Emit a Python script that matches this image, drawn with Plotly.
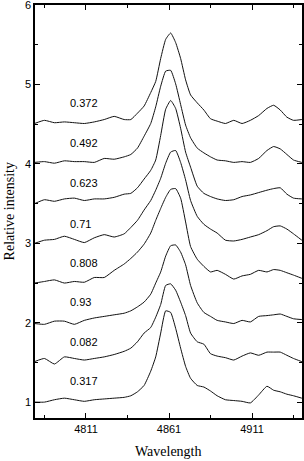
import plotly.graph_objects as go

wavelength = [4780, 4786, 4792, 4798, 4804, 4810, 4816, 4822, 4828, 4834, 4838, 4842,
              4846, 4850, 4853, 4856, 4859, 4862, 4865, 4868, 4871, 4874, 4878, 4882,
              4886, 4890, 4895, 4900, 4905, 4910, 4915, 4920, 4924, 4928, 4932, 4936, 4941]

s_0372 = [4.51, 4.55, 4.52, 4.53, 4.52, 4.51, 4.53, 4.56, 4.60, 4.56, 4.56, 4.64,
          4.73, 4.90, 5.04, 5.33, 5.57, 5.65, 5.53, 5.33, 5.06, 4.87, 4.77, 4.68,
          4.57, 4.54, 4.51, 4.55, 4.51, 4.55, 4.61, 4.70, 4.74, 4.68, 4.59, 4.55, 4.56]
s_0492 = [4.02, 4.03, 4.01, 4.04, 4.03, 4.03, 4.02, 4.07, 4.06, 4.09, 4.12, 4.20,
          4.35, 4.51, 4.72, 4.98, 5.17, 5.18, 5.01, 4.75, 4.49, 4.33, 4.20, 4.14,
          4.09, 4.05, 4.04, 4.02, 4.03, 4.02, 4.07, 4.17, 4.22, 4.19, 4.12, 4.05, 4.02]
s_0623 = [3.50, 3.55, 3.53, 3.56, 3.57, 3.54, 3.56, 3.56, 3.58, 3.62, 3.63, 3.70,
          3.81, 3.92, 4.05, 4.36, 4.69, 4.80, 4.70, 4.45, 4.15, 3.96, 3.72, 3.63,
          3.59, 3.56, 3.54, 3.55, 3.59, 3.61, 3.64, 3.67, 3.69, 3.70, 3.62, 3.57, 3.56]
s_071 = [3.00, 3.04, 3.05, 3.09, 3.05, 3.01, 3.07, 3.11, 3.08, 3.12, 3.20, 3.29,
         3.42, 3.54, 3.67, 3.82, 4.01, 4.15, 4.17, 4.02, 3.80, 3.54, 3.34, 3.24,
         3.18, 3.13, 3.04, 3.03, 3.05, 3.08, 3.11, 3.16, 3.21, 3.22, 3.18, 3.12, 3.04]
s_0808 = [2.50, 2.52, 2.54, 2.50, 2.52, 2.51, 2.57, 2.57, 2.66, 2.74, 2.81, 2.89,
          2.99, 3.13, 3.29, 3.44, 3.58, 3.68, 3.69, 3.57, 3.27, 2.96, 2.80, 2.71,
          2.64, 2.66, 2.61, 2.55, 2.59, 2.61, 2.66, 2.64, 2.67, 2.66, 2.63, 2.60, 2.56]
s_093 = [1.99, 1.98, 2.02, 2.02, 1.98, 2.03, 2.06, 2.08, 2.10, 2.12, 2.15, 2.20,
         2.26, 2.36, 2.50, 2.64, 2.84, 2.97, 2.98, 2.89, 2.73, 2.47, 2.25, 2.13,
         2.08, 2.03, 2.01, 1.99, 2.03, 2.01, 2.08, 2.09, 2.10, 2.11, 2.08, 2.05, 2.04]
s_0082 = [1.51, 1.55, 1.48, 1.57, 1.55, 1.53, 1.55, 1.57, 1.60, 1.64, 1.68, 1.76,
          1.87, 1.94, 2.07, 2.23, 2.47, 2.49, 2.41, 2.26, 2.09, 1.87, 1.76, 1.73,
          1.61, 1.58, 1.56, 1.53, 1.58, 1.62, 1.59, 1.63, 1.63, 1.63, 1.59, 1.55, 1.51]
s_0317 = [1.00, 1.00, 1.03, 1.05, 1.03, 1.01, 1.03, 1.04, 1.05, 1.06, 1.08, 1.13,
          1.21, 1.39, 1.57, 1.87, 2.15, 2.13, 1.93, 1.68, 1.45, 1.30, 1.21, 1.19,
          1.14, 1.08, 1.03, 1.02, 1.01, 0.99, 1.09, 1.20, 1.15, 1.13, 1.10, 1.08, 1.05]

series = [s_0372, s_0492, s_0623, s_071, s_0808, s_093, s_0082, s_0317]
labels = ["0.372", "0.492", "0.623", "0.71", "0.808", "0.93", "0.082", "0.317"]
label_x = 4800
label_y = [4.77, 4.26, 3.76, 3.25, 2.75, 2.26, 1.76, 1.265]

fig = go.Figure()
for s in series:
    fig.add_trace(go.Scatter(x=wavelength, y=s, mode="lines",
                             line=dict(color="#111111", width=1.0, shape="spline", smoothing=0.45),
                             showlegend=False, hoverinfo="skip"))

for t, yv in zip(labels, label_y):
    fig.add_annotation(x=label_x, y=yv, text=t, showarrow=False, xanchor="left",
                       yanchor="middle", font=dict(family="Liberation Sans, Arial", size=11, color="black"))

serif = dict(family="Liberation Serif, Times New Roman", size=14, color="black")
fig.add_annotation(x=0.5, y=-0.08, xref="paper", yref="paper", text="Wavelength",
                   showarrow=False, xanchor="center", yanchor="middle", font=serif)
fig.add_annotation(x=-0.094, y=0.5, xref="paper", yref="paper", text="Relative intensity",
                   showarrow=False, xanchor="center", yanchor="middle", textangle=-90, font=serif)

axis_common = dict(showline=True, linecolor="black", linewidth=1.5, mirror="allticks",
                   ticks="inside", ticklen=5, tickwidth=1, tickcolor="black",
                   showgrid=False, zeroline=False, automargin=False, ticklabeloverflow="allow",
                   tickfont=dict(family="Liberation Sans, Arial", size=11, color="black"))

fig.update_xaxes(range=[4780.3, 4941.1], tickvals=[4811, 4861, 4911],
                 minor=dict(tickvals=[4786, 4836, 4886, 4936], ticks="inside", ticklen=3, tickcolor="black"),
                 **axis_common)
fig.update_yaxes(range=[0.8, 6.003], tickvals=[1, 2, 3, 4, 5, 6],
                 minor=dict(tickvals=[1.5, 2.5, 3.5, 4.5, 5.5], ticks="inside", ticklen=3, tickcolor="black"),
                 **axis_common)

fig.update_layout(width=304, height=461, margin=dict(l=35, r=2, t=5, b=43),
                  plot_bgcolor="white", paper_bgcolor="white")

fig.write_html("out.html", config={"displayModeBar": False},
               post_script="document.body.style.margin='0';")
